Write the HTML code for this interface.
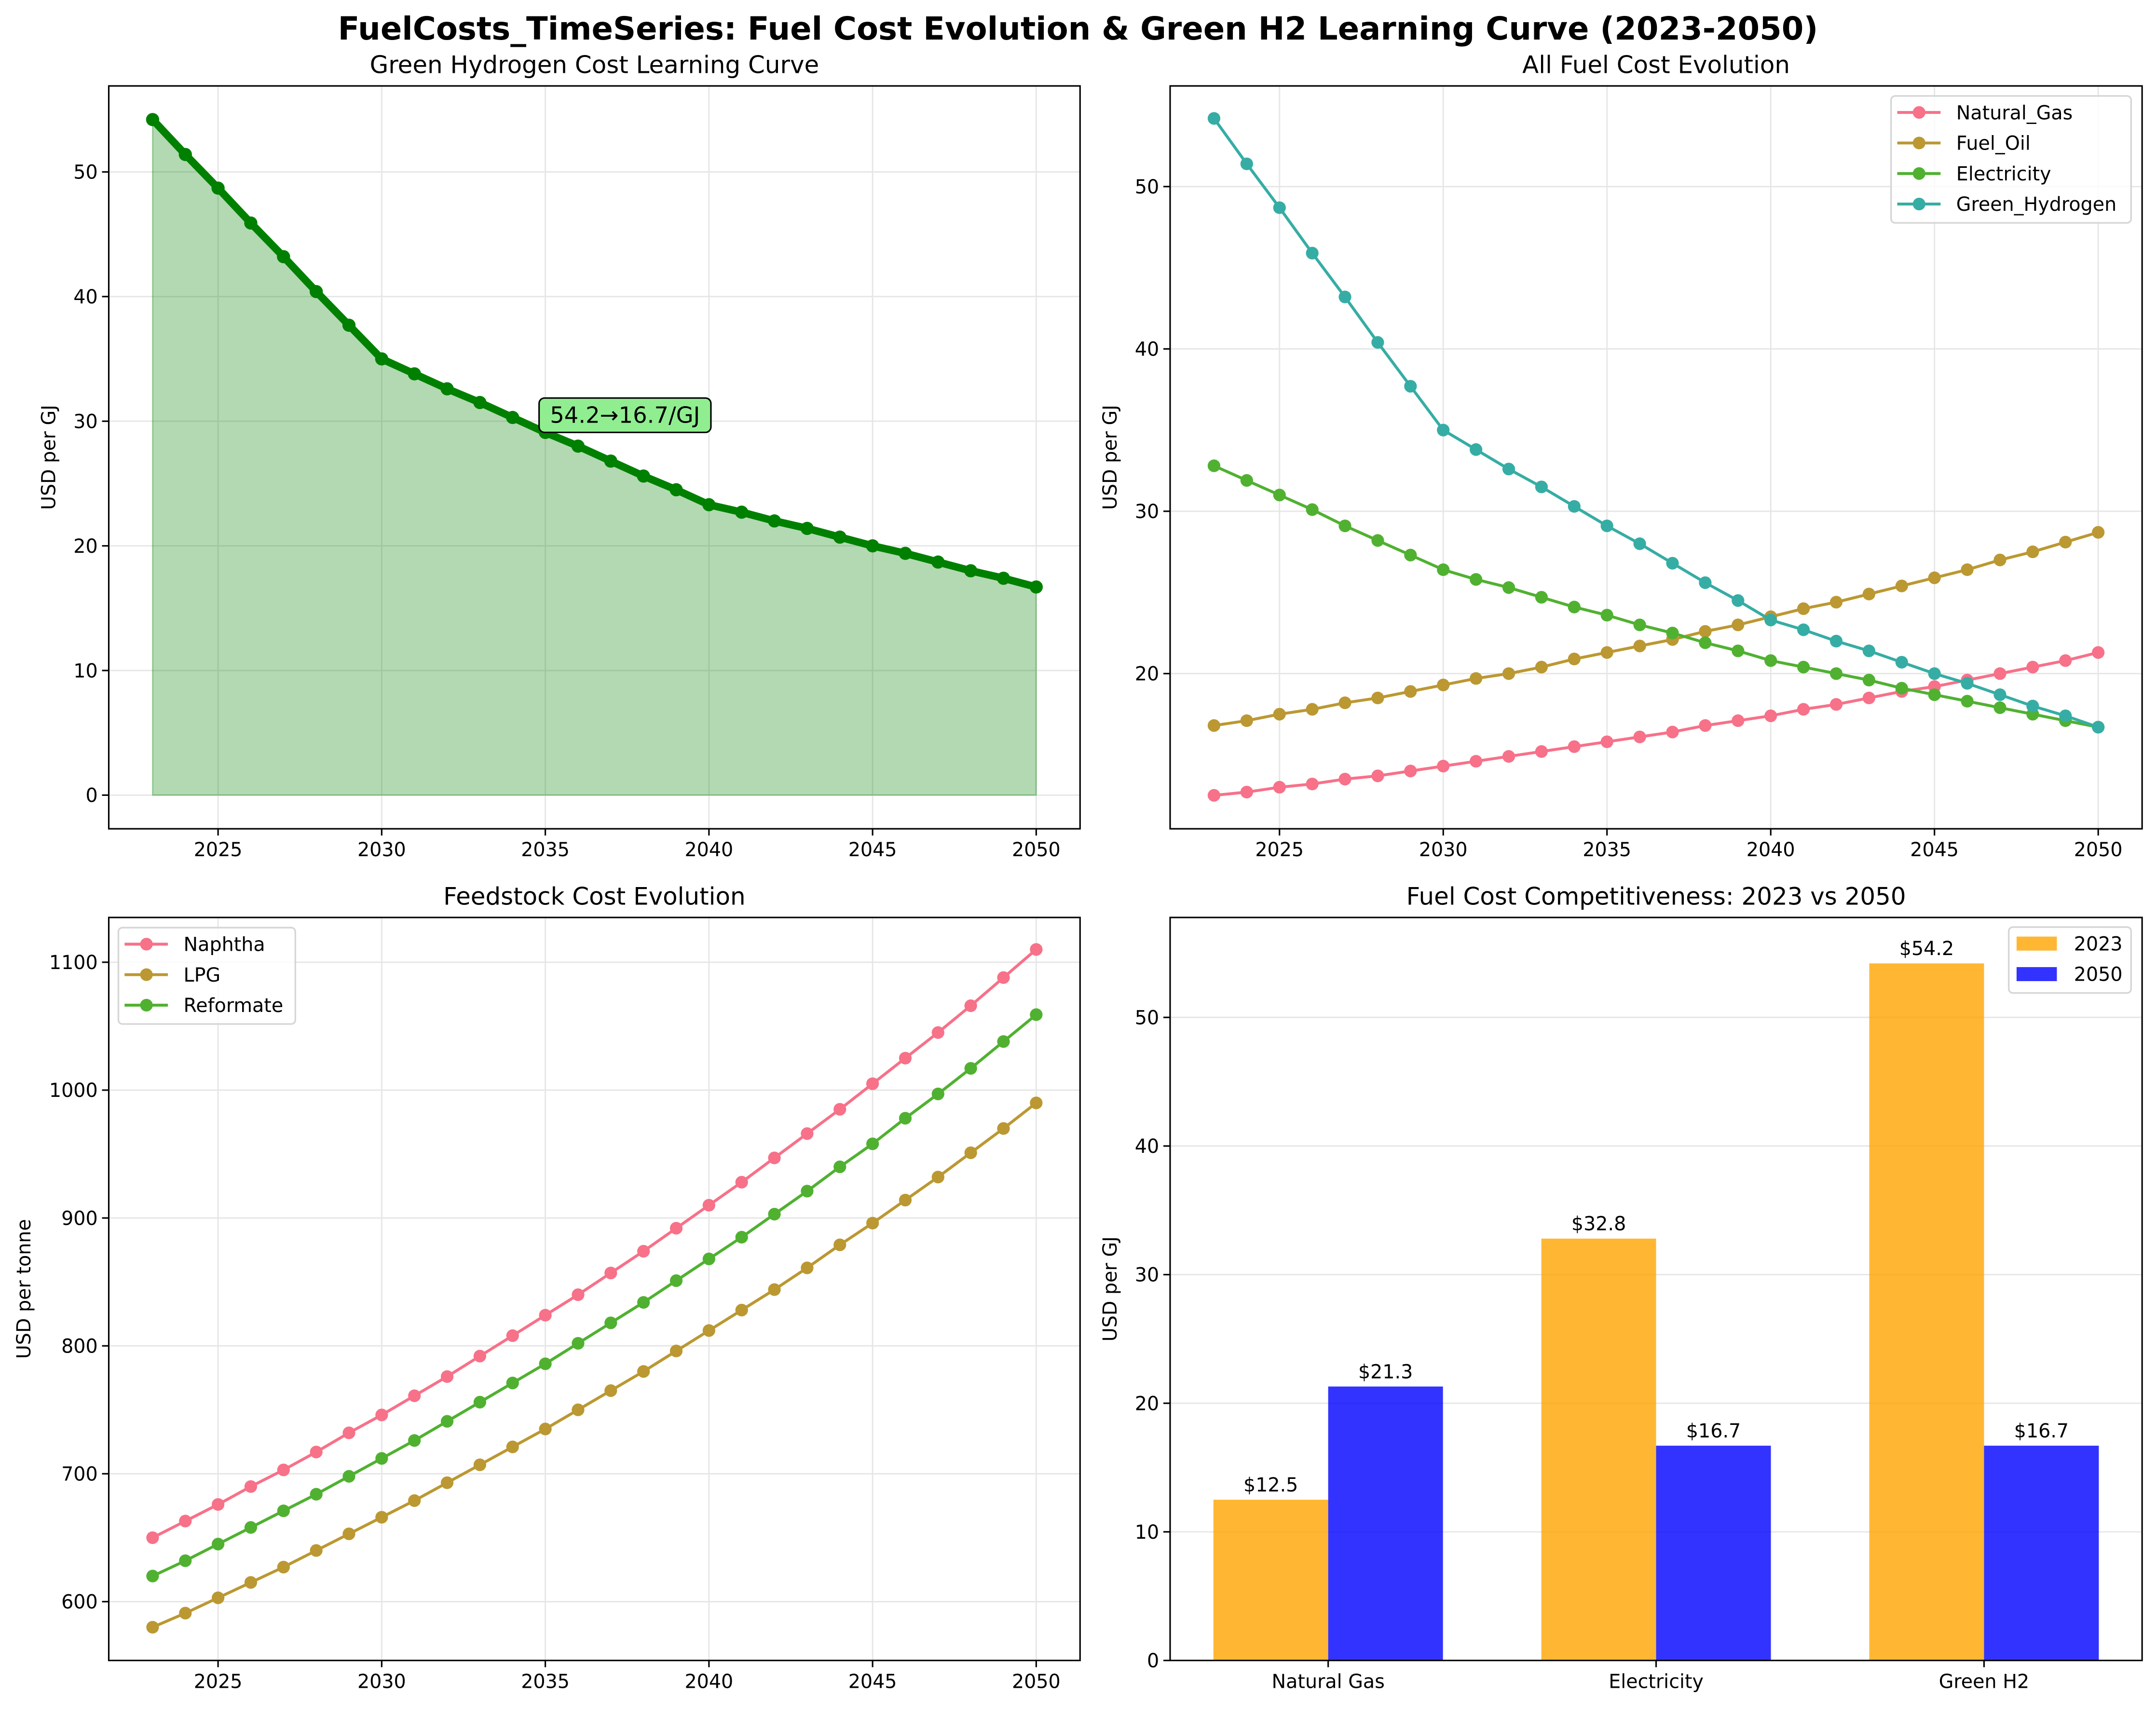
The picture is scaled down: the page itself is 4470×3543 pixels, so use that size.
<!DOCTYPE html>
<html><head><meta charset="utf-8"><style>
html,body{margin:0;padding:0;background:#fff;}
svg{display:block;font-family:"DejaVu Sans","Liberation Sans",sans-serif;}
</style></head><body>
<svg id="fig" width="4470" height="3543" viewBox="0 0 1568 1243" xmlns="http://www.w3.org/2000/svg">
<rect width="1568" height="1243" fill="#fff"/>
<text x="784" y="28.7" text-anchor="middle" font-size="23" font-weight="bold">FuelCosts_TimeSeries: Fuel Cost Evolution &amp; Green H2 Learning Curve (2023-2050)</text>
</svg>
<script>
const years = [2023,2024,2025,2026,2027,2028,2029,2030,2031,2032,2033,2034,2035,2036,2037,2038,2039,2040,2041,2042,2043,2044,2045,2046,2047,2048,2049,2050];
const greenH2 = [54.2,51.4,48.7,45.9,43.2,40.4,37.7,35.0,33.8,32.6,31.5,30.3,29.1,28.0,26.8,25.6,24.5,23.3,22.7,22.0,21.4,20.7,20.0,19.4,18.7,18.0,17.4,16.7];
const naturalGas = [12.5,12.7,13.0,13.2,13.5,13.7,14.0,14.3,14.6,14.9,15.2,15.5,15.8,16.1,16.4,16.8,17.1,17.4,17.8,18.1,18.5,18.9,19.2,19.6,20.0,20.4,20.8,21.3];
const fuelOil = [16.8,17.1,17.5,17.8,18.2,18.5,18.9,19.3,19.7,20.0,20.4,20.9,21.3,21.7,22.1,22.6,23.0,23.5,24.0,24.4,24.9,25.4,25.9,26.4,27.0,27.5,28.1,28.7];
const electricity = [32.8,31.9,31.0,30.1,29.1,28.2,27.3,26.4,25.8,25.3,24.7,24.1,23.6,23.0,22.5,21.9,21.4,20.8,20.4,20.0,19.6,19.1,18.7,18.3,17.9,17.5,17.1,16.7];
const naphtha = [650,663,676,690,703,717,732,746,761,776,792,808,824,840,857,874,892,910,928,947,966,985,1005,1025,1045,1066,1088,1110];
const lpg = [580,591,603,615,627,640,653,666,679,693,707,721,735,750,765,780,796,812,828,844,861,879,896,914,932,951,970,990];
const reformate = [620,632,645,658,671,684,698,712,726,741,756,771,786,802,818,834,851,868,885,903,921,940,958,978,997,1017,1038,1059];
const barCategories = ["Natural Gas","Electricity","Green H2"];
const bar2023 = [12.5,32.8,54.2];
const bar2050 = [21.3,16.7,16.7];
const xTicks = [2025,2030,2035,2040,2045,2050];

const NS="http://www.w3.org/2000/svg";
const svg=document.getElementById('fig');
const FS=13.9;
function el(tag,attrs,parent){const e=document.createElementNS(NS,tag);for(const k in attrs)e.setAttribute(k,attrs[k]);(parent||svg).appendChild(e);return e;}
function txt(s,attrs,parent){const e=el('text',attrs,parent);e.textContent=s;return e;}

function makeAxes(name,x0,x1,y0,y1,xmin,xmax,ymin,ymax,title,ylabel,ylabelX,yTicks,xTickVals){
  const g=el('g',{});
  
  
  const sx=v=>x0+(v-xmin)/(xmax-xmin)*(x1-x0);
  const sy=v=>y1-(v-ymin)/(ymax-ymin)*(y1-y0);
  if(xTickVals){xTickVals.forEach(t=>{
    const gl=el('line',{x1:sx(t),x2:sx(t),y1:y0,y2:y1,stroke:'#e6e6e6','stroke-width':1},g);
    
    el('line',{x1:sx(t),x2:sx(t),y1:y1,y2:y1+4.9,stroke:'#000','stroke-width':1.1},g);
    const l=txt(String(t),{x:sx(t),y:y1+20,'text-anchor':'middle','font-size':FS},g);
    
  });}
  yTicks.forEach(t=>{
    const gl=el('line',{x1:x0,x2:x1,y1:sy(t),y2:sy(t),stroke:'#e6e6e6','stroke-width':1},g);
    
    el('line',{x1:x0-4.9,x2:x0,y1:sy(t),y2:sy(t),stroke:'#000','stroke-width':1.1},g);
    const l=txt(String(t),{x:x0-8,y:sy(t)+5,'text-anchor':'end','font-size':FS},g);
    
  });
  const t=txt(title,{x:(x0+x1)/2,y:y0-9.3,'text-anchor':'middle','font-size':17.5},g);
  
  const yl=txt(ylabel,{x:0,y:0,'text-anchor':'middle','font-size':FS,transform:`translate(${ylabelX},${(y0+y1)/2}) rotate(-90)`},g);
  
  const plot=el('g',{},g);
  el('rect',{x:x0,y:y0,width:x1-x0,height:y1-y0,fill:'none',stroke:'#000','stroke-width':1.1},g);
  return {g,plot,sx,sy};
}
function series(ax,name,vals,color,lw,r){
  const d=vals.map((v,i)=>(i?'L':'M')+ax.sx(years[i]).toFixed(2)+','+ax.sy(v).toFixed(2)).join('');
  const p=el('path',{d,fill:'none',stroke:color,'stroke-width':lw,'stroke-linejoin':'round'},ax.plot);
  
  vals.forEach((v,i)=>{const c=el('circle',{cx:ax.sx(years[i]),cy:ax.sy(v),r:r,fill:color},ax.plot);
    });
}
function legend(ax,name,x,y,w,items){
  const g=el('g',{},ax.g);
  
  el('rect',{x,y,width:w,height:items.length*22.2+3.5,rx:3,fill:'#fff','fill-opacity':0.8,stroke:'#d6d6d6','stroke-width':1.2},g);
  items.forEach((it,i)=>{const cy=y+12+i*22.2;
    if(it[2]==='bar')el('rect',{x:x+5.7,y:cy-5.1,width:29.3,height:10.2,fill:it[1]},g);
    else{el('line',{x1:x+4.5,x2:x+36,y1:cy,y2:cy,stroke:it[1],'stroke-width':2.1},g);
      el('circle',{cx:x+20.4,cy,r:4.6,fill:it[1]},g);}
    const t=txt(it[0],{x:x+47.4,y:cy+5,'font-size':FS},g);
    });
}

// Panel 1
const a1=makeAxes('h2-learning-curve-panel',79,785.5,62.5,602.8,2021.66,2051.34,-2.7,56.9,'Green Hydrogen Cost Learning Curve','USD per GJ',40,[0,10,20,30,40,50],xTicks);
{const pts=greenH2.map((v,i)=>a1.sx(years[i])+','+a1.sy(v)).join(' ');
 const area=el('polygon',{points:a1.sx(years[0])+','+a1.sy(0)+' '+pts+' '+a1.sx(years[years.length-1])+','+a1.sy(0),fill:'#008000','fill-opacity':0.3,stroke:'#008000','stroke-opacity':0.3},a1.plot);
 }
series(a1,'green-hydrogen',greenH2,'#008000',5.5,4.8);
{const g=el('g',{},a1.g);
 el('rect',{x:392,y:289.5,width:125,height:25,rx:4,fill:'#90ee90',stroke:'#000','stroke-width':1.1},g);
 txt(greenH2[0].toFixed(1)+'→'+greenH2[greenH2.length-1].toFixed(1)+'/GJ',{x:454.5,y:307.5,'text-anchor':'middle','font-size':16.3},g);}

// Panel 2
const a2=makeAxes('all-fuel-panel',851,1558,62.5,602.8,2021.66,2051.34,10.44,56.2,'All Fuel Cost Evolution','USD per GJ',812,[20,30,40,50],xTicks);
series(a2,'natural-gas',naturalGas,'#f77189',2.1,4.6);
series(a2,'fuel-oil',fuelOil,'#bb9832',2.1,4.6);
series(a2,'electricity',electricity,'#50b131',2.1,4.6);
series(a2,'green-hydrogen',greenH2,'#36ada4',2.1,4.6);
legend(a2,'fuel-legend',1375.4,69.8,174.6,[['Natural_Gas','#f77189'],['Fuel_Oil','#bb9832'],['Electricity','#50b131'],['Green_Hydrogen','#36ada4']]);

// Panel 3
const a3=makeAxes('feedstock-panel',79,785.5,667.3,1207.7,2021.66,2051.34,554,1135,'Feedstock Cost Evolution','USD per tonne',22,[600,700,800,900,1000,1100],xTicks);
series(a3,'naphtha',naphtha,'#f77189',2.1,4.6);
series(a3,'lpg',lpg,'#bb9832',2.1,4.6);
series(a3,'reformate',reformate,'#50b131',2.1,4.6);
legend(a3,'feedstock-legend',86,674.7,128.7,[['Naphtha','#f77189'],['LPG','#bb9832'],['Reformate','#50b131']]);

// Panel 4
const a4=makeAxes('competitiveness-panel',851,1558,667.3,1207.7,-0.482,2.482,0,57.77,'Fuel Cost Competitiveness: 2023 vs 2050','USD per GJ',812,[0,10,20,30,40,50],null);
{const bw=(a4.sx(1)-a4.sx(0))*0.35;
 barCategories.forEach((c,i)=>{
  const cx=a4.sx(i);
  el('line',{x1:cx,x2:cx,y1:1207.7,y2:1212.6,stroke:'#000','stroke-width':1.1},a4.g);
  const l=txt(c,{x:cx,y:1227.7,'text-anchor':'middle','font-size':FS},a4.g);
  
  [[bar2023[i],cx-bw,'#ffa500','bar-2023'],[bar2050[i],cx,'#0000ff','bar-2050']].forEach(b=>{
   const r=el('rect',{x:b[1],y:a4.sy(b[0]),width:bw,height:a4.sy(0)-a4.sy(b[0]),fill:b[2],'fill-opacity':0.8},a4.plot);
   
   const t=txt('$'+b[0].toFixed(1),{x:b[1]+bw/2,y:a4.sy(b[0])-6,'text-anchor':'middle','font-size':FS},a4.plot);
   
  });
 });}
legend(a4,'year-legend',1461,674.3,89,[['2023','rgba(255,165,0,0.8)','bar'],['2050','rgba(0,0,255,0.8)','bar']]);
</script>
</body></html>
